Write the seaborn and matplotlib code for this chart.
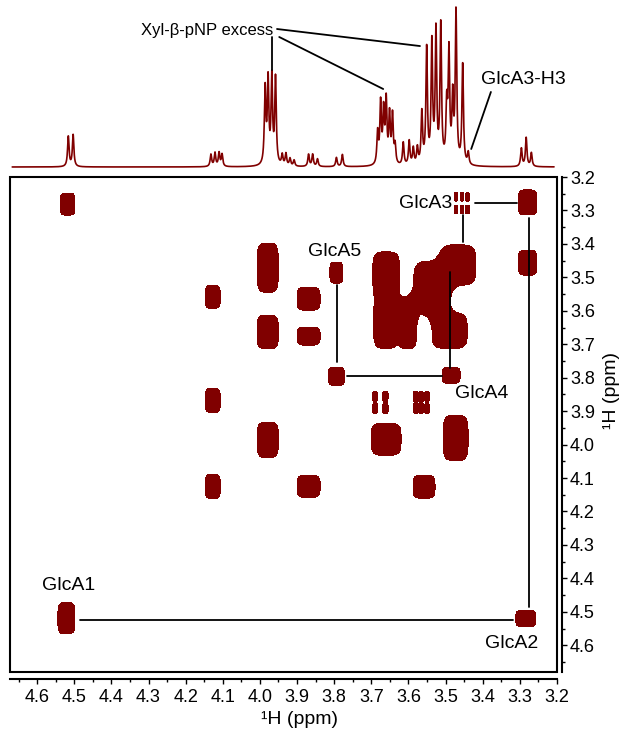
import numpy as np
import pandas as pd
import matplotlib
matplotlib.use("Agg")
import matplotlib.pyplot as plt
from matplotlib.patches import Rectangle
from matplotlib.ticker import MultipleLocator, FormatStrFormatter
import seaborn as sns

# 1D 1H trace: line positions (ppm) and relative heights
h1_ppm = [4.516, 4.503,
          4.132, 4.121, 4.110, 4.102,
          3.986, 3.978, 3.968, 3.958,
          3.940, 3.930, 3.919, 3.908,
          3.869, 3.858, 3.845,
          3.794, 3.778,
          3.683, 3.675, 3.667, 3.660, 3.651, 3.643, 3.636,
          3.614, 3.598, 3.587, 3.576,
          3.564, 3.551, 3.537, 3.526, 3.513, 3.497, 3.491, 3.481, 3.472, 3.454, 3.439,
          3.296, 3.283, 3.269]
h1_height = [0.20, 0.21,
             0.08, 0.09, 0.09, 0.08,
             0.50, 0.55, 0.57, 0.57,
             0.07, 0.08, 0.05, 0.04,
             0.08, 0.08, 0.05,
             0.06, 0.08,
             0.21, 0.40, 0.34, 0.41, 0.32, 0.32, 0.12,
             0.15, 0.16, 0.11, 0.11,
             0.34, 0.76, 0.79, 0.87, 0.91, 0.36, 0.72, 0.42, 1.00, 0.66, 0.08,
             0.12, 0.19, 0.09]
h1_hwhm = 0.0024

# COSY cross peaks: f2 / f1 centre (ppm) and contour footprint (ppm)
cosy_f2 = [4.518, 4.521,
           4.127, 4.127, 4.127,
           3.979, 3.979, 3.979,
           3.869, 3.869, 3.869,
           3.794, 3.794,
           3.660, 3.660, 3.660, 3.600,
           3.558, 3.473, 3.485, 3.489,
           3.466, 3.536,
           3.279, 3.279, 3.284,
           3.690, 3.690, 3.662, 3.662,
           3.580, 3.580, 3.566, 3.566, 3.550, 3.550,
           3.472, 3.472, 3.456, 3.456, 3.441, 3.441]
cosy_f1 = [3.281, 4.519,
           3.558, 3.868, 4.125,
           3.471, 3.663, 3.986,
           3.564, 3.676, 4.125,
           3.486, 3.796,
           3.489, 3.637, 3.984, 3.637,
           4.126, 3.980, 3.793, 3.660,
           3.463, 3.532,
           3.276, 3.456, 4.520,
           3.856, 3.892, 3.856, 3.892,
           3.856, 3.892, 3.856, 3.892, 3.856, 3.892,
           3.259, 3.297, 3.259, 3.297, 3.259, 3.297]
cosy_w = [0.040, 0.046,
          0.040, 0.040, 0.040,
          0.057, 0.057, 0.057,
          0.062, 0.062, 0.062,
          0.035, 0.043,
          0.072, 0.068, 0.080, 0.044,
          0.059, 0.067, 0.048, 0.094,
          0.094, 0.100,
          0.050, 0.050, 0.054,
          0.012, 0.012, 0.014, 0.014,
          0.012, 0.012, 0.012, 0.012, 0.012, 0.012,
          0.010, 0.010, 0.010, 0.010, 0.010, 0.010]
cosy_h = [0.066, 0.093,
          0.069, 0.072, 0.072,
          0.147, 0.100, 0.105,
          0.069, 0.054, 0.066,
          0.063, 0.054,
          0.130, 0.150, 0.096, 0.150,
          0.069, 0.135, 0.048, 0.105,
          0.120, 0.160,
          0.075, 0.075, 0.050,
          0.032, 0.032, 0.032, 0.032,
          0.032, 0.032, 0.032, 0.032, 0.032, 0.032,
          0.026, 0.026, 0.026, 0.026, 0.026, 0.026]

XLIM = (4.673, 3.2)
YLIM = (4.68, 3.2)
RED = "#800000"

sns.set_theme(style="white", rc={"axes.edgecolor": "black", "text.color": "black",
                                 "xtick.color": "black", "ytick.color": "black",
                                 "axes.labelcolor": "black"})
plt.rcParams["font.family"] = ["Liberation Sans", "DejaVu Sans"]

fig = plt.figure(figsize=(6.27, 7.3), dpi=100)
ax2 = fig.add_axes([10 / 627, 58 / 730, 547 / 627, 495 / 730])
ax1 = fig.add_axes([10 / 627, 560 / 730, 547 / 627, 170 / 730])

# ---- top 1D trace
x1 = np.linspace(4.667, 3.208, 5000)
y1 = np.zeros_like(x1)
for p, hgt in zip(h1_ppm, h1_height):
    y1 += hgt * h1_hwhm ** 2 / ((x1 - p) ** 2 + h1_hwhm ** 2)
y1 = y1 / y1.max()
trace = pd.DataFrame({"ppm": x1, "intensity": y1})
sns.lineplot(data=trace, x="ppm", y="intensity", ax=ax1, color=RED, lw=1.2,
             estimator=None, sort=False)
ax1.set_xlim(*XLIM)
ax1.set_ylim(-3 / 160, 167 / 160)
ax1.axis("off")

ax1.text(3.965, 0.856, "Xyl-β-pNP excess", ha="right", va="center", fontsize=12)
ax1.text(3.405, 0.544, "GlcA3-H3", ha="left", va="center", fontsize=14)
for (xa, ya), (xb, yb) in [((3.967, 0.8125), (3.967, 0.606)),
                           ((3.948, 0.8125), (3.668, 0.4875)),
                           ((3.954, 0.8625), (3.569, 0.756)),
                           ((3.378, 0.469), (3.431, 0.1125))]:
    ax1.plot([xa, xb], [ya, yb], color="black", lw=1.3)

# ---- 2D COSY map
gx = np.linspace(XLIM[0], XLIM[1], 900)
gy = np.linspace(YLIM[1], YLIM[0], 900)
GX, GY = np.meshgrid(gx, gy)
Z = np.zeros_like(GX)
for cx, cy, w, h in zip(cosy_f2, cosy_f1, cosy_w, cosy_h):
    Z += np.exp(-np.log(2) * ((2 * (GX - cx) / w) ** 4 + (2 * (GY - cy) / h) ** 4))
ax2.contourf(GX, GY, Z, levels=[0.5, 1e6], colors=[RED])

ax2.set_xlim(*XLIM)
ax2.set_ylim(*YLIM)

# assignment walk
segments = [((4.484, 4.524), (3.318, 4.524)),
            ((3.275, 3.323), (3.275, 4.487)),
            ((3.421, 3.278), (3.308, 3.278)),
            ((3.453, 3.314), (3.453, 3.395)),
            ((3.792, 3.523), (3.792, 3.754)),
            ((3.765, 3.796), (3.510, 3.796)),
            ((3.488, 3.484), (3.488, 3.772))]
for (xa, ya), (xb, yb) in segments:
    ax2.plot([xa, xb], [ya, yb], color="black", lw=1.3)

lab = dict(fontsize=14, va="center")
ax2.text(3.483, 3.278, "GlcA3", ha="right", **lab)
ax2.text(3.798, 3.422, "GlcA5", ha="center", **lab)
ax2.text(3.402, 3.847, "GlcA4", ha="center", **lab)
ax2.text(4.515, 4.422, "GlcA1", ha="center", **lab)
ax2.text(3.321, 4.595, "GlcA2", ha="center", **lab)

# frame + offset axes
ax2.add_patch(Rectangle((0, 0), 1, 1, transform=ax2.transAxes, fill=False,
                        lw=1.5, edgecolor="black", clip_on=False, zorder=5))
for s in ["left", "top"]:
    ax2.spines[s].set_visible(False)
ax2.spines["bottom"].set_position(("outward", 5))
ax2.spines["right"].set_position(("outward", 3.8))
ax2.spines["bottom"].set_linewidth(1.5)
ax2.spines["right"].set_linewidth(1.5)
ax2.yaxis.tick_right()
ax2.yaxis.set_label_position("right")
for axis in (ax2.xaxis, ax2.yaxis):
    axis.set_major_locator(MultipleLocator(0.1))
    axis.set_minor_locator(MultipleLocator(0.05))
    axis.set_major_formatter(FormatStrFormatter("%.1f"))
ax2.tick_params(which="both", direction="out", width=1, labelsize=13, pad=2,
                bottom=True, right=True, left=False, top=False)
ax2.tick_params(axis="x", which="both", pad=4)
ax2.tick_params(which="major", length=3.5)
ax2.tick_params(which="minor", length=2.5)
ax2.set_xlabel("¹H (ppm)", fontsize=14)
ax2.set_ylabel("¹H (ppm)", fontsize=14, rotation=90)
ax2.xaxis.set_label_coords(0.53, -0.078)
ax2.yaxis.set_label_coords(1.084, 0.568)

fig.savefig("out.png", dpi=100)
